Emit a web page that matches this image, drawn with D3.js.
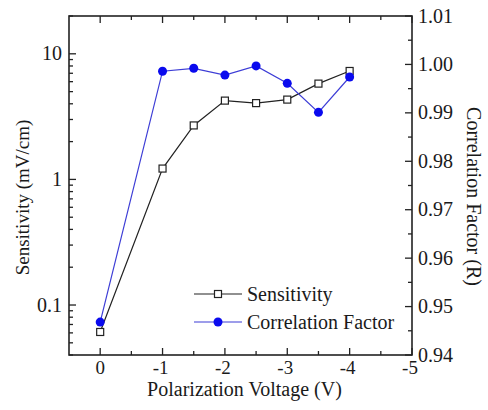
<!DOCTYPE html>
<html><head><meta charset="utf-8">
<script src="https://cdn.jsdelivr.net/npm/d3@7"></script>
<style>body{margin:0;background:#fff}svg{display:block}text{font-family:"Liberation Serif","Times New Roman",serif;fill:#1a1a1a}</style>
</head><body><div id="chart"></div>
<script>
const voltages = [0, -1, -1.5, -2, -2.5, -3, -3.5, -4];
const sensitivity = [0.061, 1.22, 2.69, 4.24, 4.05, 4.32, 5.79, 7.30];
const correlation = [0.9468, 0.9986, 0.9992, 0.9978, 0.9997, 0.9961, 0.9901, 0.9974];
const xTicks = [0, -1, -2, -3, -4, -5];
const leftTicks = [0.1, 1, 10];
const rightTicks = [0.94, 0.95, 0.96, 0.97, 0.98, 0.99, 1.00, 1.01];
const seriesNames = ["Sensitivity", "Correlation Factor"];

const W = 488, H = 410;
const m = {l: 69, t: 16, r: 76, b: 55};
const svg = d3.select("#chart").append("svg").attr("width", W).attr("height", H);
const x = d3.scaleLinear().domain([0.5, -5]).range([m.l, W - m.r]);
const yL = d3.scaleLog().domain([0.04, 20]).range([H - m.b, m.t]);
const yR = d3.scaleLinear().domain([0.94, 1.01]).range([H - m.b, m.t]);
const ink = "#222";

const g = svg.append("g");
const xMinor = d3.range(0, -5.01, -0.5).filter(v => !xTicks.includes(v));
const logMinor = [];
[0.01, 0.1, 1, 10].forEach(d => { for (let k = 2; k <= 9; k++) { const v = d * k; if (v >= 0.04 && v <= 20 && !leftTicks.includes(v)) logMinor.push(v); } });
const rMinor = d3.range(0.945, 1.01, 0.01);

function tickLines(vals, f, len) { vals.forEach(v => { const a = f(v, len); g.append("line").attr("x1", a[0]).attr("y1", a[1]).attr("x2", a[2]).attr("y2", a[3]).attr("stroke", ink).attr("stroke-width", 1.3); }); }
const yb = H - m.b, yt = m.t, xl = m.l, xr = W - m.r;
tickLines(xTicks, (v, L) => [x(v), yb, x(v), yb - L], 7);
tickLines(xMinor, (v, L) => [x(v), yb, x(v), yb - L], 4);
tickLines(xTicks, (v, L) => [x(v), yt, x(v), yt + L], 7);
tickLines(xMinor, (v, L) => [x(v), yt, x(v), yt + L], 4);
tickLines(leftTicks, (v, L) => [xl, yL(v), xl + L, yL(v)], 7);
tickLines(logMinor, (v, L) => [xl, yL(v), xl + L, yL(v)], 4);
tickLines(rightTicks, (v, L) => [xr, yR(v), xr - L, yR(v)], 7);
tickLines(rMinor, (v, L) => [xr, yR(v), xr - L, yR(v)], 4);

g.append("rect").attr("x", xl).attr("y", yt).attr("width", xr - xl).attr("height", yb - yt)
  .attr("fill", "none").attr("stroke", ink).attr("stroke-width", 1.6);

const fs = 19;
xTicks.forEach(v => g.append("text").attr("x", x(v) + (v < 0 ? -2 : 0)).attr("y", yb + 19).attr("text-anchor", "middle").attr("font-size", fs).text(v));
leftTicks.forEach(v => g.append("text").attr("x", xl - 7).attr("y", yL(v)).attr("dy", "0.33em").attr("text-anchor", "end").attr("font-size", 20).text(v));
rightTicks.forEach(v => g.append("text").attr("x", xr + 6).attr("y", yR(v)).attr("dy", "0.33em").attr("text-anchor", "start").attr("font-size", 20).text(d3.format(".2f")(v)));

svg.append("text").attr("x", (xl + xr) / 2 + 4).attr("y", H - 14).attr("text-anchor", "middle").attr("font-size", 20).text("Polarization Voltage (V)");
svg.append("text").attr("transform", `translate(29,${(yt + yb) / 2 + 12}) rotate(-90)`).attr("text-anchor", "middle").attr("font-size", 19).text("Sensitivity (mV/cm)");
svg.append("text").attr("transform", `translate(467,${(yt + yb) / 2 + 11}) rotate(90)`).attr("text-anchor", "middle").attr("font-size", 20).text("Correlation Factor (R)");

const blueLine = "#3d3dd6", blue = "#0a0aee";
const sData = voltages.map((v, i) => [v, sensitivity[i]]);
const cData = voltages.map((v, i) => [v, correlation[i]]);
svg.append("path").datum(sData).attr("fill", "none").attr("stroke", ink).attr("stroke-width", 1.2)
  .attr("d", d3.line().x(d => x(d[0])).y(d => yL(d[1])));
svg.append("path").datum(cData).attr("fill", "none").attr("stroke", blueLine).attr("stroke-width", 1.2)
  .attr("d", d3.line().x(d => x(d[0])).y(d => yR(d[1])));
svg.selectAll(".sq").data(sData).enter().append("rect").attr("x", d => x(d[0]) - 3.5).attr("y", d => yL(d[1]) - 3.5)
  .attr("width", 7).attr("height", 7).attr("fill", "#fff").attr("stroke", ink).attr("stroke-width", 1.2);
svg.selectAll(".ci").data(cData).enter().append("circle").attr("cx", d => x(d[0])).attr("cy", d => yR(d[1])).attr("r", 4.5).attr("fill", blue);

const lg = svg.append("g");
[0, 1].forEach(i => {
  const ly = 294 + i * 28;
  lg.append("line").attr("x1", 194).attr("x2", 242).attr("y1", ly).attr("y2", ly).attr("stroke", i ? blueLine : ink).attr("stroke-width", 1.2);
  if (i) lg.append("circle").attr("cx", 218).attr("cy", ly).attr("r", 4.5).attr("fill", blue);
  else lg.append("rect").attr("x", 214.5).attr("y", ly - 3.5).attr("width", 7).attr("height", 7).attr("fill", "#fff").attr("stroke", ink).attr("stroke-width", 1.2);
  lg.append("text").attr("x", 247).attr("y", ly).attr("dy", "0.33em").attr("font-size", 20).text(seriesNames[i]);
});
</script></body></html>
